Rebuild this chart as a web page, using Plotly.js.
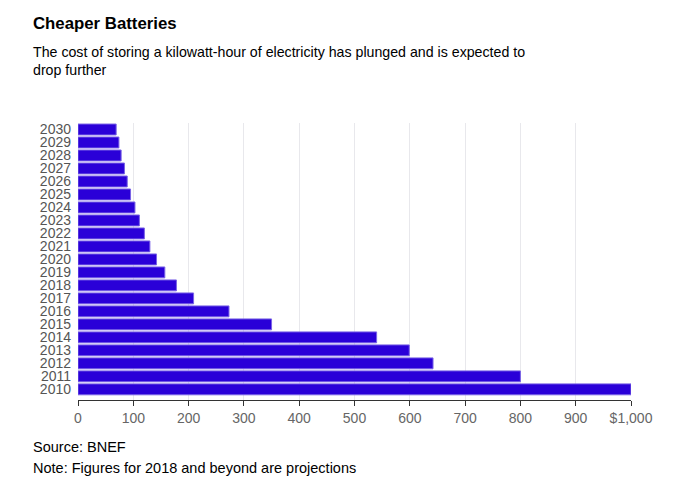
<!DOCTYPE html>
<html><head><meta charset="utf-8">
<script src="https://cdn.plot.ly/plotly-3.0.1.min.js"></script>
<style>html,body{margin:0;padding:0;background:#fff;}</style>
</head><body>
<div id="chart" style="width:682px;height:489px;"></div>
<script>
var years = ["2010","2011","2012","2013","2014","2015","2016","2017","2018","2019","2020","2021","2022","2023","2024","2025","2026","2027","2028","2029","2030"];
var costs = [1000,800,642,599,540,350,273,209,178,157,142,130,120,111,103,95,89,84,78,74,69];
var xTickVals = [0,100,200,300,400,500,600,700,800,900,1000];
var xTickText = ["0","100","200","300","400","500","600","700","800","900","$1,000"];

var trace = {
  type: "bar", orientation: "h",
  y: years, x: costs,
  width: 0.84,
  marker: {color: "#2a00d8", line: {color: "#7a63e6", width: 1}},
  hoverinfo: "x+y"
};
var font = "'Liberation Sans', Arial, Helvetica, sans-serif";
var layout = {
  width: 682, height: 489,
  margin: {l: 78, r: 51, t: 123, b: 89},
  paper_bgcolor: "#fff", plot_bgcolor: "#fff",
  showlegend: false,
  font: {family: font, color: "#666", size: 14},
  xaxis: {
    range: [0, 1000], tickmode: "array", tickvals: xTickVals, ticktext: xTickText,
    showgrid: true, gridcolor: "#e8e8ec", gridwidth: 1,
    zeroline: false, showline: true, linecolor: "#333", linewidth: 1,
    ticks: "outside", ticklen: 5, tickcolor: "#333",
    tickfont: {size: 14, color: "#666"}, fixedrange: true
  },
  yaxis: {
    type: "category", range: [-0.82, 20.5],
    tickmode: "array", tickvals: years, ticktext: years,
    showgrid: false, zeroline: false, showline: false,
    ticks: "", ticklabelstandoff: 6,
    tickfont: {size: 14, color: "#555"}, fixedrange: true
  },
  annotations: []
};
var plotW = 682 - 78 - 51, plotH = 489 - 123 - 89;
function px(x){ return (x - 78) / plotW; }
function py(y){ return (489 - 89 - y) / plotH; }
function note(text, x, y, size){
  layout.annotations.push({text: text, xref: "paper", yref: "paper", x: px(x), y: py(y), xanchor: "left", yanchor: "top", align: "left", showarrow: false, font: {family: font, size: size, color: "#000"}});
}
note("<b>Cheaper Batteries</b>", 31, 12, 16.8);
note("The cost of storing a kilowatt-hour of electricity has plunged and is expected to<br>drop further", 31, 42, 14.2);
note("Source: BNEF", 31, 437, 14.5);
note("Note: Figures for 2018 and beyond are projections", 31, 458, 14.5);
Plotly.newPlot("chart", [trace], layout, {displayModeBar: false, staticPlot: true});
</script>
</body></html>
